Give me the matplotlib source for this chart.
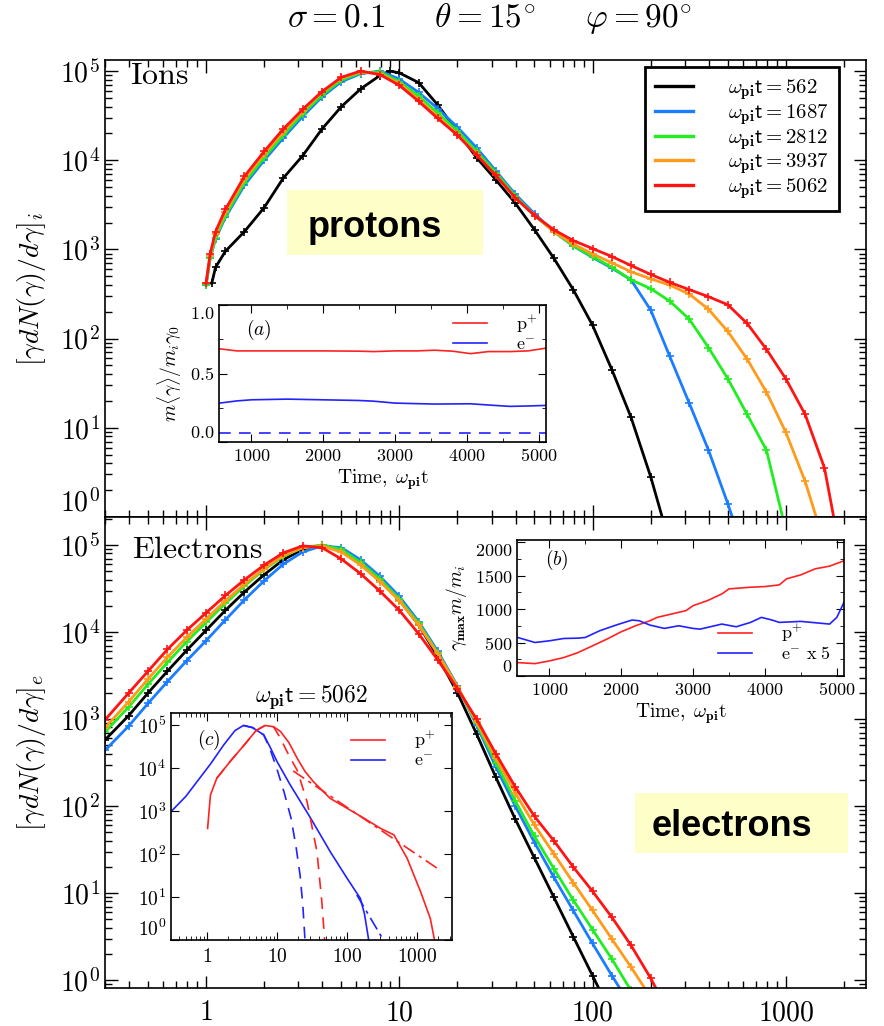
import numpy as np
import matplotlib.pyplot as plt
from matplotlib.ticker import LogLocator, MultipleLocator, NullFormatter
from matplotlib.patches import Rectangle

plt.rcParams['mathtext.fontset'] = 'cm'
plt.rcParams['font.family'] = 'DejaVu Serif'
plt.rcParams['axes.linewidth'] = 1.2

# ---------------- data ----------------
times = [562, 1687, 2812, 3937, 5062]
colors = ['black', '#1a7dff', '#20ee20', '#ff9a1a', '#ff1414']

# ions: gamma and log10 of gamma dN/dgamma (peaks normalised to 1e5)
g_ion = [1.0, 1.05, 1.12, 1.26, 1.58, 2.0, 2.51, 3.16, 3.98, 5.01, 6.31, 7.94,
         10.0, 12.6, 15.8, 20.0, 25.1, 31.6, 39.8, 50.1, 63.1, 79.4,
         100, 126, 158, 200, 251, 316, 398, 501, 631, 794,
         1000, 1259, 1585, 1995]
g_ion_562 = [1.07, 1.12, 1.26, 1.58, 2.0, 2.51, 3.16, 3.98, 5.01, 6.31, 7.94, 8.91,
             10.0, 12.6, 15.8, 20.0, 25.1, 31.6, 39.8, 50.1, 63.1, 79.4,
             100, 126, 158, 200, 251]
ion_562 = [2.62, 2.8, 2.98, 3.2, 3.47, 3.8, 4.05, 4.35, 4.6, 4.8, 4.95, 5.0,
           4.98, 4.87, 4.62, 4.32, 4.03, 3.78, 3.52, 3.22, 2.9, 2.55,
           2.15, 1.65, 1.12, 0.45, -0.3]
ion_1687 = [2.6, 2.9, 3.12, 3.36, 3.72, 4.0, 4.25, 4.49, 4.71, 4.88, 4.97, 5.0,
            4.91, 4.76, 4.58, 4.37, 4.14, 3.88, 3.62, 3.4, 3.2, 3.04,
            2.91, 2.79, 2.66, 2.32, 1.8, 1.28, 0.75, 0.15, -0.5]
ion_2812 = [2.6, 2.9, 3.13, 3.38, 3.75, 4.03, 4.28, 4.52, 4.73, 4.9, 4.98, 4.99,
            4.88, 4.72, 4.53, 4.33, 4.1, 3.86, 3.6, 3.38, 3.2, 3.04,
            2.92, 2.8, 2.66, 2.56, 2.42, 2.22, 1.9, 1.55, 1.15, 0.75, -0.15]
ion_3937 = [2.62, 2.93, 3.17, 3.42, 3.79, 4.07, 4.32, 4.55, 4.76, 4.92, 4.99, 4.97,
            4.86, 4.68, 4.49, 4.29, 4.07, 3.83, 3.58, 3.38, 3.2, 3.06,
            2.95, 2.85, 2.75, 2.67, 2.6, 2.5, 2.33, 2.08, 1.77, 1.4,
            0.95, 0.4, -0.3]
ion_5062 = [2.62, 2.95, 3.2, 3.45, 3.82, 4.1, 4.35, 4.57, 4.77, 4.93, 5.0, 4.96,
            4.84, 4.66, 4.47, 4.28, 4.06, 3.83, 3.58, 3.38, 3.22, 3.1,
            3.01, 2.92, 2.82, 2.72, 2.63, 2.55, 2.47, 2.38, 2.17, 1.88,
            1.55, 1.15, 0.55, -0.6]

# electrons
g_ele = [0.30, 0.398, 0.501, 0.631, 0.794, 1.0, 1.26, 1.58, 2.0, 2.51, 3.16, 3.98,
         5.01, 6.31, 7.94, 10.0, 12.6, 15.8, 20.0, 25.1, 31.6, 39.8,
         50.1, 63.1, 79.4, 100, 126, 158, 200, 251]
ele_562 = [2.76, 3.04, 3.3, 3.55, 3.79, 4.02, 4.25, 4.46, 4.66, 4.83, 4.95, 5.0,
           4.95, 4.8, 4.6, 4.37, 4.08, 3.72, 3.3, 2.83, 2.33, 1.85,
           1.4, 0.95, 0.5, 0.05, -0.4]
ele_1687 = [2.64, 2.92, 3.18, 3.43, 3.67, 3.9, 4.14, 4.37, 4.59, 4.78, 4.92, 4.99,
            4.97, 4.83, 4.64, 4.41, 4.12, 3.78, 3.38, 2.93, 2.45, 2.0,
            1.58, 1.18, 0.8, 0.42, 0.05, -0.3]
ele_2812 = [2.85, 3.14, 3.4, 3.65, 3.89, 4.11, 4.33, 4.53, 4.72, 4.87, 4.97, 5.0,
            4.95, 4.8, 4.61, 4.38, 4.1, 3.76, 3.37, 2.95, 2.5, 2.06,
            1.65, 1.28, 0.92, 0.58, 0.24, -0.12]
ele_3937 = [2.9, 3.2, 3.46, 3.71, 3.94, 4.15, 4.36, 4.55, 4.73, 4.88, 4.97, 4.99,
            4.92, 4.77, 4.58, 4.36, 4.08, 3.75, 3.37, 2.97, 2.55, 2.15,
            1.78, 1.45, 1.12, 0.8, 0.47, 0.15, -0.2]
ele_5062 = [2.99, 3.3, 3.55, 3.8, 4.02, 4.22, 4.42, 4.6, 4.77, 4.91, 4.99, 4.97,
            4.84, 4.67, 4.47, 4.25, 3.98, 3.68, 3.35, 3.0, 2.6, 2.22,
            1.88, 1.6, 1.3, 1.02, 0.72, 0.4, 0.02, -0.4]

# inset (a): mean energy fraction vs time
t_a = [560, 800, 1000, 1500, 2000, 2500, 2700, 3000, 3300, 3550, 3800, 4050,
       4300, 4600, 4850, 5100]
a_ion = [0.68, 0.665, 0.665, 0.665, 0.665, 0.663, 0.66, 0.665, 0.665, 0.67, 0.663,
         0.645, 0.66, 0.66, 0.665, 0.685]
a_ele = [0.284, 0.3, 0.308, 0.313, 0.308, 0.303, 0.298, 0.284, 0.28, 0.277, 0.278,
         0.279, 0.27, 0.26, 0.263, 0.267]
mass_ratio = 0.0625

# inset (b): maximum energy vs time
t_b_ion = [560, 800, 1000, 1200, 1400, 1600, 1800, 2000, 2200, 2400, 2500, 2700,
           2900, 3000, 3200, 3400, 3500, 3800, 4000, 4200, 4300, 4500, 4700,
           4900, 5100]
b_ion = [200, 185, 225, 275, 350, 450, 550, 660, 750, 825, 875, 925,
         975, 1050, 1125, 1225, 1300, 1325, 1335, 1360, 1450, 1510, 1600,
         1640, 1720]
t_b_ele = [560, 800, 1000, 1200, 1400, 1500, 1700, 1900, 2000, 2150, 2250, 2400,
           2600, 2800, 3000, 3100, 3300, 3400, 3600, 3800, 3950, 4100, 4200,
           4500, 4800, 4900, 5000, 5100]
b_ele = [575, 500, 525, 560, 565, 575, 675, 750, 785, 835, 825, 760,
         710, 750, 710, 700, 750, 775, 735, 800, 875, 835, 800,
         815, 785, 775, 875, 1100]

# inset (c): spectra at t=5062 with fits (log10 of counts)
c_g_ion = [1.02, 1.12, 1.38, 2.14, 3.72, 5.01, 6.76, 8.91, 11.2, 14.8, 19.5, 25.1,
           33.1, 57.5, 100, 174, 302, 468, 724, 1122, 1549, 1778]
c_ion = [2.6, 3.38, 3.77, 4.16, 4.62, 4.88, 5.0, 4.97, 4.86, 4.6, 4.23, 3.93,
         3.69, 3.3, 3.07, 2.84, 2.6, 2.45, 1.9, 1.13, 0.5, 0.0]
c_g_ion_fit = [1.38, 2.14, 3.72, 5.01, 6.76, 8.91, 11.2, 14.8, 19.5, 26.9, 37.2,
               43.7, 47.9]
c_ion_fit = [3.77, 4.16, 4.62, 4.88, 5.0, 4.97, 4.7, 4.3, 3.95, 3.22, 2.06, 0.89, 0.0]
c_g_ion_pl = [17.0, 1950]
c_ion_pl = [3.94, 1.67]
c_g_ele = [0.31, 0.5, 0.72, 1.12, 1.74, 2.51, 3.31, 4.47, 6.46, 7.94, 10.0, 15.5,
           30.2, 57.5, 100, 155, 178, 204]
c_ele = [3.0, 3.35, 3.69, 4.1, 4.55, 4.88, 5.0, 4.95, 4.78, 4.5, 4.16, 3.61,
         2.84, 2.06, 1.44, 0.97, 0.6, 0.0]
c_g_ele_fit = [3.31, 4.47, 6.46, 7.94, 10.0, 12.6, 15.8, 18.6, 21.4, 23.4, 25.1]
c_ele_fit = [5.0, 4.95, 4.78, 4.45, 3.98, 3.45, 2.85, 2.2, 1.5, 0.8, 0.0]
c_g_ele_pl = [138, 331]
c_ele_pl = [1.05, 0.0]

RED = '#ff2222'
BLUE = '#2222ff'

# ---------------- figure ----------------
W, H = 884, 1026


def box(l, t, r, b):
    return [l / W, 1 - b / H, (r - l) / W, (b - t) / H]


fig = plt.figure(figsize=(W / 100, H / 100), dpi=100)
ax1 = fig.add_axes(box(105, 60, 866, 517))
ax2 = fig.add_axes(box(105, 517, 866, 988))

dec = [1, 10, 100, 1000, 1e4, 1e5]
dec_lab = [r'$10^{%d}$' % i for i in range(6)]

for ax, ylim in [(ax1, (1, 1.33e5)), (ax2, (0.81, 2.1e5))]:
    ax.set_xscale('log')
    ax.set_yscale('log')
    ax.set_xlim(0.3, 2600)
    ax.set_ylim(*ylim)
    ax.set_xticks([1, 10, 100, 1000], labels=[r'$1$', r'$10$', r'$100$', r'$1000$'])
    ax.set_yticks(dec, labels=dec_lab)
    ax.xaxis.set_minor_locator(LogLocator(10, subs=np.arange(2, 10)))
    ax.yaxis.set_minor_locator(LogLocator(10, subs=np.arange(2, 10)))
    ax.xaxis.set_minor_formatter(NullFormatter())
    ax.yaxis.set_minor_formatter(NullFormatter())
    ax.tick_params(which='both', direction='in', top=True, right=True, width=1)
    ax.tick_params(which='major', length=9, labelsize=20)
    ax.tick_params(which='minor', length=5)
    ax.tick_params(axis='x', pad=8)

ax1.tick_params(labelbottom=False)
ax1.get_yticklabels()[0].set_va('bottom')

ion_sets = [(g_ion_562, ion_562), (g_ion, ion_1687), (g_ion, ion_2812),
            (g_ion, ion_3937), (g_ion, ion_5062)]
ele_sets = [ele_562, ele_1687, ele_2812, ele_3937, ele_5062]

for (g, y), c, t in zip(ion_sets, colors, times):
    ax1.plot(g[:len(y)], 10.0 ** np.array(y), color=c, lw=2.0, marker='+', ms=6, mew=1.2,
             label=r'$\omega_{\mathbf{pi}}\mathsf{t}=\mathsf{%d}$' % t)
for y, c in zip(ele_sets, colors):
    ax2.plot(g_ele[:len(y)], 10.0 ** np.array(y), color=c, lw=2.0, marker='+', ms=6, mew=1.2)

leg = ax1.legend(loc='upper right', bbox_to_anchor=(0.965, 0.985), borderaxespad=0,
                 fontsize=15, fancybox=False, edgecolor='black', framealpha=1,
                 handlelength=1.8, handletextpad=1.7, labelspacing=0.0, borderpad=0.5)
leg.get_frame().set_linewidth(2)
for line in leg.get_lines():
    line.set_marker('')
    line.set_linewidth(2.4)

ax1.set_ylabel(r'$[\gamma dN(\gamma)/d\gamma]_i$', fontsize=20)
ax2.set_ylabel(r'$[\gamma dN(\gamma)/d\gamma]_e$', fontsize=20)
ax1.yaxis.set_label_coords(-0.075, 0.5)
ax2.yaxis.set_label_coords(-0.075, 0.5)

ax1.text(0.033, 0.965, r'$\mathrm{Ions}$', transform=ax1.transAxes, fontsize=23, va='center')
ax2.text(0.035, 0.932, r'$\mathrm{Electrons}$', transform=ax2.transAxes, fontsize=23,
         va='center')

fig.text(490 / W, 1 - 18 / H,
         r'$\sigma=0.1\quad\ \ \theta=15^{\circ}\quad\ \ \varphi=90^{\circ}$',
         ha='center', va='center', fontsize=24)

# highlighted species labels
for (l, t, r, b), word, tx, ty in [((287, 190, 483, 255), 'protons', 308, 237),
                                   ((635, 793, 848, 853), 'electrons', 652, 836)]:
    fig.add_artist(Rectangle((l / W, 1 - b / H), (r - l) / W, (b - t) / H,
                             transform=fig.transFigure, facecolor='#fefec8',
                             edgecolor='none'))
    fig.text(tx / W, 1 - ty / H, word, fontsize=26, fontweight='bold',
             family='Liberation Sans', ha='left', va='baseline')


def lin_inset(ax, ylim, ymin):
    ax.set_xlim(550, 5100)
    ax.set_ylim(*ylim)
    ax.xaxis.set_minor_locator(MultipleLocator(500))
    ax.yaxis.set_minor_locator(MultipleLocator(ymin))
    ax.tick_params(which='both', direction='in', top=True, right=True, labelsize=13)
    ax.tick_params(which='major', length=6)
    ax.tick_params(which='minor', length=3)
    ax.set_xticks([1000, 2000, 3000, 4000, 5000],
                  labels=[r'$%d$' % v for v in [1000, 2000, 3000, 4000, 5000]])
    ax.set_xlabel(r'$\mathrm{Time,}\ \omega_{\mathbf{pi}}\mathrm{t}$', fontsize=14, labelpad=2)
    labs = ax.get_yticklabels()
    labs[0].set_va('bottom')
    labs[-1].set_va('top')


inset_leg = dict(frameon=False, fontsize=13, handlelength=1.9, handletextpad=1.6,
                 labelspacing=0.05)

# inset (a)
axa = fig.add_axes(box(219, 305, 546, 442))
axa.set_yticks([0.0, 0.5, 1.0], labels=[r'$0.0$', r'$0.5$', r'$1.0$'])
axa.plot(t_a, a_ion, color=RED, lw=1.2, label=r'$\mathrm{p}^{+}$')
axa.plot(t_a, a_ele, color=BLUE, lw=1.2, label=r'$\mathrm{e}^{-}$')
axa.axhline(mass_ratio, color=BLUE, lw=1.2, dashes=(7, 5))
lin_inset(axa, (0, 1.0), 0.25)
axa.set_ylabel(r'$m\langle\gamma\rangle/m_i\gamma_0$', fontsize=14)
axa.text(0.083, 0.82, r'$(a)$', transform=axa.transAxes, fontsize=14, va='center')
axa.legend(loc='upper right', borderaxespad=0.05, **inset_leg)

# inset (b)
axb = fig.add_axes(box(517, 540, 844, 676))
axb.set_yticks([0, 500, 1000, 1500, 2000],
               labels=[r'$%d$' % v for v in [0, 500, 1000, 1500, 2000]])
axb.plot(t_b_ion, b_ion, color=RED, lw=1.2, label=r'$\mathrm{p}^{+}$')
axb.plot(t_b_ele, b_ele, color=BLUE, lw=1.2, label=r'$\mathrm{e}^{-}\ \mathrm{x}\ 5$')
lin_inset(axb, (0, 2030), 250)
axb.set_ylabel(r'$\gamma_{\mathbf{max}}m/m_i$', fontsize=14)
axb.text(0.086, 0.85, r'$(b)$', transform=axb.transAxes, fontsize=14, va='center')
axb.legend(loc='lower right', borderaxespad=0.3, **inset_leg)

# inset (c)
axc = fig.add_axes(box(171, 713, 452, 940))
axc.set_xscale('log')
axc.set_yscale('log')
axc.set_xlim(0.306, 3160)
axc.set_ylim(1, 1.95e5)
axc.plot(c_g_ion, 10.0 ** np.array(c_ion), color=RED, lw=1.2, label=r'$\mathrm{p}^{+}$')
axc.plot(c_g_ele, 10.0 ** np.array(c_ele), color=BLUE, lw=1.2, label=r'$\mathrm{e}^{-}$')
axc.plot(c_g_ion_fit, 10.0 ** np.array(c_ion_fit), color=RED, lw=1.2, dashes=(7, 5))
axc.plot(c_g_ele_fit, 10.0 ** np.array(c_ele_fit), color=BLUE, lw=1.2, dashes=(7, 5))
axc.plot(c_g_ion_pl, 10.0 ** np.array(c_ion_pl), color=RED, lw=1.2, dashes=(8, 3, 2, 3))
axc.plot(c_g_ele_pl, 10.0 ** np.array(c_ele_pl), color=BLUE, lw=1.2, dashes=(8, 3, 2, 3))
axc.set_xticks([1, 10, 100, 1000], labels=[r'$1$', r'$10$', r'$100$', r'$1000$'])
axc.set_yticks(dec, labels=dec_lab)
axc.xaxis.set_minor_locator(LogLocator(10, subs=np.arange(2, 10)))
axc.yaxis.set_minor_locator(LogLocator(10, subs=np.arange(2, 10)))
axc.xaxis.set_minor_formatter(NullFormatter())
axc.yaxis.set_minor_formatter(NullFormatter())
axc.tick_params(which='both', direction='in', top=True, right=True, labelsize=14)
axc.tick_params(which='major', length=6)
axc.tick_params(which='minor', length=3)
axc.tick_params(axis='x', pad=6)
axc.get_yticklabels()[0].set_va('bottom')
axc.text(0.092, 0.88, r'$(c)$', transform=axc.transAxes, fontsize=14, va='center')
axc.text(0.5, 1.07, r'$\omega_{\mathbf{pi}}\mathsf{t}=\mathsf{5062}$',
         transform=axc.transAxes, fontsize=17, ha='center', va='center')
axc.legend(loc='upper right', borderaxespad=0.5, **inset_leg)

fig.savefig('out.png', dpi=100)
